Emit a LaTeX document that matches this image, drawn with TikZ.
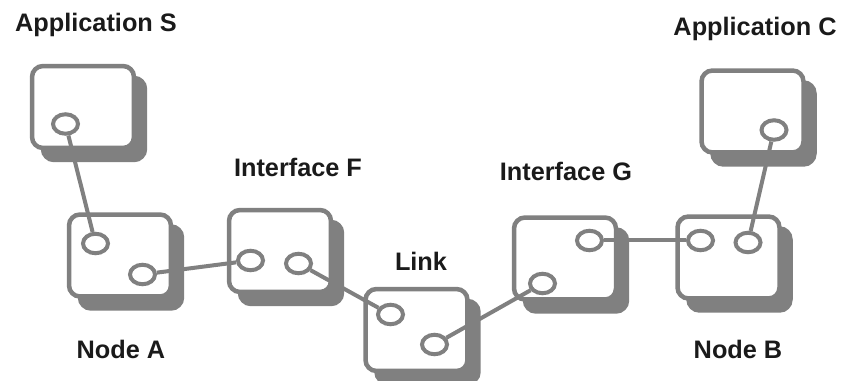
\documentclass[tikz,border=0pt]{standalone}
\usepackage{fontspec}
\setmainfont{Liberation Sans}
\usetikzlibrary{shapes.geometric,shadows}
\definecolor{boxgray}{HTML}{808080}
\definecolor{textdark}{HTML}{1A1A1A}
\tikzset{
  unit/.style={rectangle, draw=boxgray, fill=white, line width=0.09cm,
    rounded corners=0.22cm, minimum width=2.04cm, minimum height=1.64cm, inner sep=0pt,
    general shadow={draw=boxgray, fill=boxgray, line width=0.09cm,
      shadow xshift=0.22cm, shadow yshift=-0.24cm}},
  port/.style={ellipse, draw=boxgray, fill=white, line width=0.08cm,
    minimum width=0.5cm, minimum height=0.39cm, inner sep=0pt},
  caption/.style={anchor=base, inner sep=0pt, text=textdark,
    font=\fontsize{14.4}{17}\selectfont\bfseries},
  wire/.style={draw=boxgray, line width=0.08cm}
}
\begin{document}
\begin{tikzpicture}[x=0.02cm, y=-0.02cm]
      \useasboundingbox (0,0) rectangle (841,381);
      \draw
        (83,107) node[unit] (appS){}
        (120,255.5) node[unit] (nodeA){}
        (280,251) node[unit] (ifF){}
        (416.5,330) node[unit] (link){}
        (565,258.5) node[unit] (ifG){}
        (752.5,111.5) node[unit] (appC){}
        (728.5,257.5) node[unit] (nodeB){};
      \draw
        (65.5,124) node[port] (pS){}
        (95.5,243.5) node[port] (pA1){}
        (142.5,274.5) node[port] (pA2){}
        (250.5,260.5) node[port] (pF1){}
        (298.5,263.5) node[port] (pF2){}
        (390.5,314.5) node[port] (pL1){}
        (434.5,344.5) node[port] (pL2){}
        (542.5,283.5) node[port] (pG1){}
        (589.5,240.5) node[port] (pG2){}
        (700.5,240.5) node[port] (pB1){}
        (748,242.5) node[port] (pB2){}
        (774,130) node[port] (pC){};
      \begin{scope}[wire]
        \draw (pS) to (pA1);
        \draw (pA2) to (pF1);
        \draw (pF2) to (pL1);
        \draw (pL2) to (pG1);
        \draw (pG2) to (pB1);
        \draw (pB2) to (pC);
      \end{scope}
      \draw
        (96,32) node[caption] (tS){Application S}
        (755,36) node[caption] (tC){Application C}
        (298,177) node[caption] (tF){Interface F}
        (566,180.5) node[caption] (tG){Interface G}
        (421,271) node[caption] (tL){Link}
        (121,358) node[caption] (tA){Node A}
        (738,358) node[caption] (tB){Node B};
    \end{tikzpicture}
\end{document}
